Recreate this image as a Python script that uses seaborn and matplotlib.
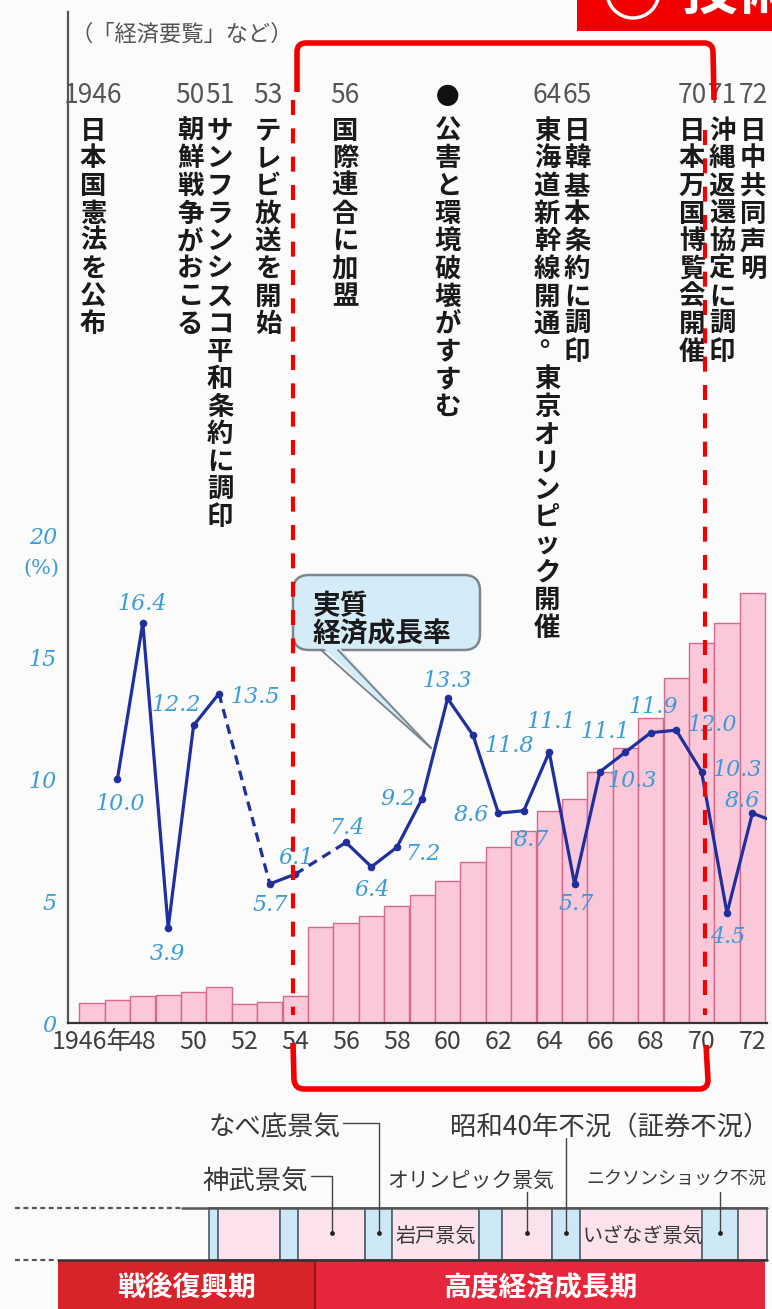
import numpy as np
import pandas as pd
import matplotlib
matplotlib.use("Agg")
import matplotlib.pyplot as plt
import seaborn as sns
from matplotlib.patches import FancyBboxPatch, Polygon, Circle, PathPatch, Rectangle
from matplotlib.path import Path

# ---------------- data ----------------
bar_years = list(range(1946, 1973))
bar_values = [0.83, 0.94, 1.10, 1.15, 1.26, 1.49, 0.78, 0.87, 1.12,
              3.95, 4.09, 4.39, 4.80, 5.25, 5.83, 6.61, 7.23, 7.85,
              8.69, 9.18, 10.30, 11.26, 12.49, 14.13, 15.56, 16.40, 17.64]

growth_years = list(range(1947, 1974))
growth_rates = [10.0, 16.4, 3.9, 12.2, 13.5, np.nan, 5.7, 6.1, np.nan,
                7.4, 6.4, 7.2, 9.2, 13.3, 11.8, 8.6, 8.7, 11.1, 5.7,
                10.3, 11.1, 11.9, 12.0, 10.3, 4.5, 8.6, 8.2]
labelled_years = list(range(1947, 1973))

x_tick_years = list(range(1946, 1973, 2))
x_tick_labels = ["1946年"] + [f"{y % 100:02d}" for y in range(1948, 1973, 2)]
y_tick_values = [0, 5, 10, 15, 20]

event_years = ["1946", "50", "51", "53", "56", "●", "64", "65", "70", "71", "72"]
event_texts = ["日本国憲法を公布", "朝鮮戦争がおこる", "サンフランシスコ平和条約に調印",
               "テレビ放送を開始", "国際連合に加盟", "公害と環境破壊がすすむ",
               "東海道新幹線開通。東京オリンピック開催", "日韓基本条約に調印",
               "日本万国博覧会開催", "沖縄返還協定に調印", "日中共同声明"]

cycle_bounds = [1950.61, 1950.96, 1953.40, 1954.11, 1956.75, 1957.81, 1961.24,
                1962.14, 1964.11, 1965.21, 1970.03, 1971.43, 1972.57]
cycle_phase = ["down", "up", "down", "up", "down", "up",
               "down", "up", "down", "up", "down", "up"]
cycle_label_cells = [3, 4, 7, 8, 10]
cycle_label_names = ["神武景気", "なべ底景気", "オリンピック景気",
                     "昭和40年不況（証券不況）", "ニクソンショック不況"]
cycle_inner_cells = [5, 9]
cycle_inner_names = ["岩戸景気", "いざなぎ景気"]

era_bounds = [1944.66, 1954.78, 1972.50]
era_names = ["戦後復興期", "高度経済成長期"]

# ---------------- style ----------------
W, H, DPI = 772, 1309, 100
LINE_COLOR = "#1f2f9e"
LABEL_BLUE = "#3c9bd6"
BAR_FILL = "#fac8d9"
BAR_EDGE = "#d56a8d"
RED = "#f20000"
CELL_COLORS = {"down": "#cde8f5", "up": "#fce2ec"}
ERA_COLORS = ["#d9232b", "#e6263b"]

# label offsets (pixels, right / up) for each growth value
label_offsets = {1947: (3, -22), 1948: (-1, 21), 1949: (-1, -24), 1950: (-17, 23),
                 1951: (36, -1), 1953: (0, -19), 1954: (1, 19), 1956: (1, 17),
                 1957: (1, -21), 1958: (26, -4), 1959: (-24, 2), 1960: (0, 20),
                 1961: (36, -8), 1962: (-27, 1), 1963: (8, -27), 1964: (2, 33),
                 1965: (2, -18), 1966: (32, -7), 1967: (-20, 23), 1968: (2, 28),
                 1969: (36, 8), 1970: (36, 4), 1971: (1, -21), 1972: (-10, 15)}

# horizontal scale: year 1946 sits at x=92 px, 25.4 px per year
X0, PPY = 92.0, 25.4
Y0, PPP = 1023.0, 24.4


def year_at(px):
    return 1946 + (px - X0) / PPY


sns.set_theme(style="white")
plt.rcParams["font.family"] = ["Noto Sans CJK JP", "DejaVu Sans"]
plt.rcParams["axes.unicode_minus"] = False
NUM_FONT = dict(family="DejaVu Serif", style="italic")
SANS = ["Noto Sans CJK JP", "DejaVu Sans"]

fig = plt.figure(figsize=(W / DPI, H / DPI), dpi=DPI)
fig.patch.set_facecolor("#fbfbfb")

# ---------------- main chart ----------------
ax = fig.add_axes([68 / W, 1 - 1023 / H, (767 - 68) / W, (1023 - 12) / H])
ax.set_facecolor("none")

df_bar = pd.DataFrame({"year": bar_years, "value": bar_values})
sns.barplot(data=df_bar, x="year", y="value", native_scale=True, width=1.0,
            color=BAR_FILL, saturation=1, edgecolor=BAR_EDGE, linewidth=1.0,
            errorbar=None, ax=ax, zorder=1)

df_g = pd.DataFrame({"year": growth_years, "rate": growth_rates})
ok = df_g["rate"].notna()
run_id = (ok != ok.shift()).cumsum()
runs = [g for _, g in df_g[ok].groupby(run_id[ok])]
for g in runs:
    sns.lineplot(data=g, x="year", y="rate", color=LINE_COLOR, linewidth=2.3,
                 estimator=None, ax=ax, zorder=4)
for a, b in zip(runs[:-1], runs[1:]):
    gap = pd.concat([a.tail(1), b.head(1)])
    sns.lineplot(data=gap, x="year", y="rate", color=LINE_COLOR, linewidth=2.3,
                 linestyle=(0, (3.0, 2.0)), estimator=None, ax=ax, zorder=4)
sns.scatterplot(data=df_g[ok], x="year", y="rate", color=LINE_COLOR, s=30,
                linewidth=0, ax=ax, zorder=5)

for yr, v in zip(growth_years, growth_rates):
    if np.isnan(v) or yr not in labelled_years:
        continue
    dx, dy = label_offsets[yr]
    ax.annotate(f"{v:.1f}", (yr, v), xytext=(dx * 72 / DPI, dy * 72 / DPI),
                textcoords="offset points", ha="center", va="center_baseline",
                color=LABEL_BLUE, fontsize=16, zorder=6, **NUM_FONT)

ax.set_xlim(year_at(68), year_at(767))
ax.set_ylim(0, (1023 - 12) / PPP)
ax.set_xlabel("")
ax.set_ylabel("")
ax.set_yticks(y_tick_values)
ax.set_yticklabels([str(v) for v in y_tick_values], color=LABEL_BLUE,
                   fontsize=16, **NUM_FONT)
ax.set_xticks(x_tick_years)
ax.set_xticklabels(x_tick_labels, color="#404040", fontsize=18, family=SANS)
ax.tick_params(axis="y", length=4, width=3, direction="inout", color="#222222", pad=6)
ax.tick_params(axis="x", length=0, pad=4)
for side in ("top", "right"):
    ax.spines[side].set_visible(False)
ax.spines["left"].set_color("#555555")
ax.spines["left"].set_linewidth(1.6)
ax.spines["bottom"].set_color("#333333")
ax.spines["bottom"].set_linewidth(1.6)

# ---------------- business-cycle strip and era band ----------------
tl = fig.add_axes([0, 0, 1, (H - 1090) / H])
tl.set_xlim(year_at(0), year_at(W))
tl.set_ylim(H, 1090)
tl.axis("off")

starts = np.array(cycle_bounds[:-1])
ends = np.array(cycle_bounds[1:])
tl.bar(starts, height=52, width=ends - starts, bottom=1208, align="edge",
       color=[CELL_COLORS[p] for p in cycle_phase], edgecolor="#5b6470",
       linewidth=1.3, zorder=1)

e_starts = np.array(era_bounds[:-1])
e_ends = np.array(era_bounds[1:])
tl.bar(e_starts, height=49, width=e_ends - e_starts, bottom=1260, align="edge",
       color=ERA_COLORS, linewidth=0, zorder=1)
tl.plot([era_bounds[1]] * 2, [1260, 1309], color="#8a1010", lw=1.2, zorder=2)
for s, e, name in zip(e_starts, e_ends, era_names):
    tl.text((s + e) / 2, 1285, name, color="white", fontsize=20, fontweight="bold",
            ha="center", va="center_baseline", zorder=3)

tl.plot([year_at(182), year_at(767)], [1208, 1208], color="#555555", lw=1.8, zorder=3)
tl.plot([year_at(15), year_at(182)], [1208, 1208], color="#555555", lw=1.6,
        linestyle=(0, (2.2, 1.6)), zorder=3)
tl.plot([year_at(58), year_at(767)], [1260, 1260], color="#333333", lw=1.8, zorder=3)
tl.plot([year_at(15), year_at(56)], [1260, 1260], color="#555555", lw=1.6,
        linestyle=(0, (2.2, 1.6)), zorder=3)

mid = (starts + ends) / 2
label_style = dict(color="#383838", zorder=4, va="center_baseline")
# (text anchor px, text y px, ha, size, leader kind, leader y px)
label_layout = [(308, 1178, "right", 19, "elbow", 1176),
                (340, 1125, "right", 19, "elbow", 1123),
                (387, 1178, "left", 15, "drop", 1192),
                (450, 1125, "left", 19, "drop", 1138),
                (766, 1178, "right", 13, "drop", 1192)]
for cell, name, (tx, ty, ha, size, kind, ly) in zip(cycle_label_cells, cycle_label_names,
                                                     label_layout):
    tl.text(year_at(tx), ty, name, ha=ha, fontsize=size, **label_style)
    cx = mid[cell]
    if kind == "elbow":
        tl.plot([year_at(tx + 3), cx, cx], [ly, ly, 1233], color="#444444", lw=1.0, zorder=4)
    else:
        tl.plot([cx, cx], [ly, 1233], color="#444444", lw=1.0, zorder=4)
    tl.scatter([cx], [1233], s=12, color="#222222", zorder=5, linewidths=0)
for cell, name in zip(cycle_inner_cells, cycle_inner_names):
    tl.text(starts[cell] + 0.12, 1234, name, ha="left", fontsize=14.5, **label_style)

# ---------------- overlay: events, callout, highlight ----------------
ov = fig.add_axes([0, 0, 1, 1], zorder=10)
ov.set_xlim(0, W)
ov.set_ylim(H, 0)
ov.axis("off")

ov.text(70, 32, "（「経済要覧」など）", fontsize=16, color="#555555",
        ha="left", va="center_baseline")
ov.text(41, 566, "(%)", fontsize=15, color=LABEL_BLUE, ha="center",
        va="center_baseline", family="DejaVu Serif")

event_x = [93, 190, 220, 268, 345, 448, 547, 577, 692, 722, 753]
EV_SIZE = 19
EM = EV_SIZE * DPI / 72
STEP = 27.6
TOP = 115
for x, yl, txt in zip(event_x, event_years, event_texts):
    if yl == "●":
        ov.text(x, 95, yl, fontsize=17, color="#111111", ha="center", va="center_baseline")
    else:
        ov.text(x, 103, yl, fontsize=19, color="#555555", ha="center", va="baseline",
                family=SANS)
    for i, ch in enumerate(txt):
        top = TOP + STEP * i
        if ch in "。、":
            ov.text(x + 0.22 * EM, top + 0.4 * EM, ch, fontsize=EV_SIZE, color="#1a1a1a",
                    ha="center", va="baseline", fontweight="bold")
        else:
            ov.text(x, top + STEP / 2 + 0.38 * EM, ch, fontsize=EV_SIZE, color="#1a1a1a",
                    ha="center", va="baseline", fontweight="bold")

# callout for the growth-rate line
CALLOUT_FILL = "#d3ecf7"
ov.add_patch(FancyBboxPatch((300, 582), 173, 61,
                            boxstyle="round,pad=7,rounding_size=16",
                            fc=CALLOUT_FILL, ec="#7c868c", lw=1.8, zorder=2))
ov.add_patch(Polygon([(321, 646), (338, 646), (431, 748)], closed=True,
                     fc=CALLOUT_FILL, ec="none", zorder=3))
ov.plot([321, 431], [650, 748], color="#7c868c", lw=1.4, zorder=3)
ov.plot([338, 431], [650, 748], color="#7c868c", lw=1.4, zorder=3)
ov.text(313, 603, "実質", fontsize=20, fontweight="bold", color="#1a1a1a",
        ha="left", va="center_baseline", zorder=4)
ov.text(313, 631, "経済成長率", fontsize=20, fontweight="bold", color="#1a1a1a",
        ha="left", va="center_baseline", zorder=4)

# red highlight bracket around the high-growth years
M, L, C = Path.MOVETO, Path.LINETO, Path.CURVE3
top_path = Path([(297, 92), (297, 52), (297, 43), (306, 43), (704, 43),
                 (713, 43), (713, 52), (714, 100)], [M, L, C, C, L, C, C, L])
bot_path = Path([(293, 1043), (294, 1080), (295, 1089), (304, 1089), (699, 1089),
                 (708, 1089), (708, 1080), (706, 1045)], [M, L, C, C, L, C, C, L])
for p in (top_path, bot_path):
    ov.add_patch(PathPatch(p, fc="none", ec=RED, lw=4, capstyle="butt", zorder=8))
ov.plot([293, 293], [100, 1015], color=RED, lw=3, linestyle=(0, (3.6, 3.2)), zorder=8)
ov.plot([705, 705], [130, 1015], color=RED, lw=3, linestyle=(0, (3.6, 3.2)), zorder=8)

# red heading tab (top right)
ov.add_patch(Rectangle((577, 0), 200, 31, fc=RED, ec="none", zorder=8))
ov.add_patch(Circle((633, -8), 26, fc="none", ec="white", lw=2.5, zorder=9))
ov.text(681, 10, "技術", fontsize=40, fontweight="bold", color="white",
        ha="left", va="baseline", zorder=9)

fig.savefig("out.png", dpi=DPI, facecolor=fig.get_facecolor())
